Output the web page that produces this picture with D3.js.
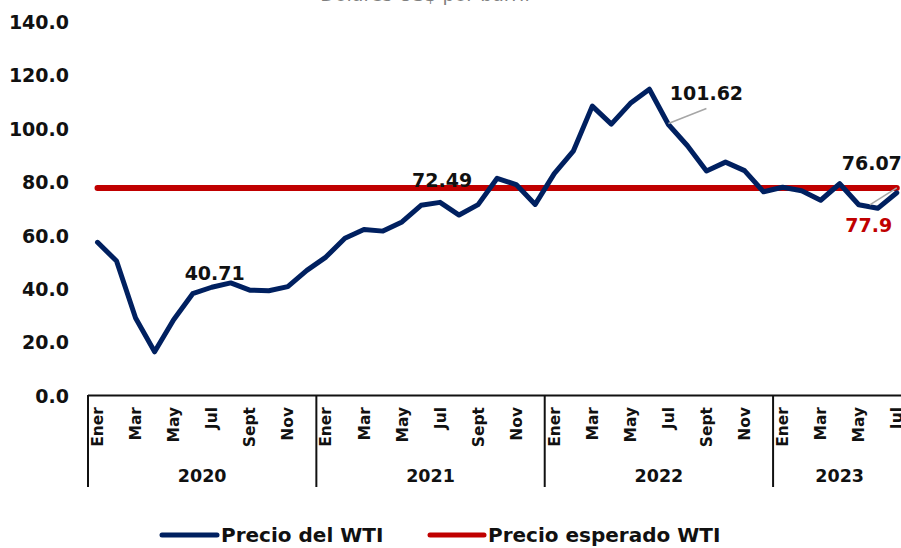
<!DOCTYPE html>
<html lang="es">
<head>
<meta charset="UTF-8">
<script src="https://d3js.org/d3.v7.min.js" charset="utf-8"></script>
<title>Precio del WTI</title>
<style>
    body { margin: 0; background: #fff; }
    text { font-family: "DejaVu Sans", sans-serif; font-weight: bold; }
</style>
</head>
<body>
<div id="chart"></div>
<script>
    const width = 901, height = 548;

    // datos
    const years = ["2020", "2021", "2022", "2023"];
    const months = ["Ener", "Feb", "Mar", "Abr", "May", "Jun", "Jul", "Ago", "Sept", "Oct", "Nov", "Dic"];
    const wti = [
        57.52, 50.54, 29.21, 16.55, 28.56, 38.31, 40.71, 42.34, 39.63, 39.40, 40.94, 47.02,
        52.00, 59.04, 62.33, 61.72, 65.17, 71.38, 72.49, 67.73, 71.65, 81.48, 79.15, 71.71,
        83.22, 91.64, 108.50, 101.78, 109.55, 114.84, 101.62, 93.67, 84.26, 87.55, 84.37, 76.44,
        78.12, 76.83, 73.28, 79.45, 71.58, 70.25, 76.07
    ];
    const esperado = 77.9;
    const yTicks = [0, 20, 40, 60, 80, 100, 120, 140];
    const labelIdx = [6, 18, 30, 42];

    const periods = [];
    years.forEach(y => months.forEach(m => periods.push({ year: y, month: m })));
    const cats = periods.slice(0, wti.length).map((p, i) => i);

    const x = d3.scaleBand().domain(cats).range([88, 88 + 19.03 * cats.length]).padding(0);
    const y = d3.scaleLinear().domain([0, 140]).range([396, 22]);
    const cx = i => x(i) + x.bandwidth() / 2;

    const svg = d3.select("#chart").append("svg")
        .attr("width", width)
        .attr("height", height);

    // titulo (cortado arriba)
    svg.append("text")
        .attr("x", 425).attr("y", 1)
        .attr("text-anchor", "middle")
        .style("font-weight", "normal")
        .style("font-size", "19px")
        .attr("fill", "#7f7f7f")
        .text("Dólares US$ por barril");

    // eje y
    svg.append("g").selectAll("text")
        .data(yTicks)
        .enter().append("text")
        .attr("x", 69)
        .attr("y", d => y(d))
        .attr("dy", "0.36em")
        .attr("text-anchor", "end")
        .style("font-size", "19px")
        .attr("fill", "#111")
        .text(d => d3.format(".1f")(d));

    // eje x
    const axis = svg.append("g").attr("stroke", "#111").attr("stroke-width", 2);
    axis.append("line")
        .attr("x1", 88).attr("x2", width)
        .attr("y1", 395.5).attr("y2", 395.5);
    axis.selectAll(".sep")
        .data(years)
        .enter().append("line")
        .attr("x1", (d, k) => x(k * 12)).attr("x2", (d, k) => x(k * 12))
        .attr("y1", 395).attr("y2", 487);

    svg.append("g").selectAll("text")
        .data(cats.filter(i => i % 2 === 0))
        .enter().append("text")
        .attr("transform", i => `translate(${cx(i)},407) rotate(-90)`)
        .attr("dy", "0.36em")
        .attr("text-anchor", "end")
        .style("font-size", "15.5px")
        .attr("fill", "#111")
        .text(i => periods[i].month);

    svg.append("g").selectAll("text")
        .data(years)
        .enter().append("text")
        .attr("x", (d, k) => {
            const first = k * 12, last = Math.min(k * 12 + 11, cats.length - 1);
            return (x(first) + x(last) + x.bandwidth()) / 2;
        })
        .attr("y", 482)
        .attr("text-anchor", "middle")
        .style("font-size", "17.5px")
        .attr("fill", "#111")
        .text(d => d);

    // precio esperado
    svg.append("line")
        .attr("x1", cx(0)).attr("x2", cx(cats.length - 1))
        .attr("y1", y(esperado)).attr("y2", y(esperado))
        .attr("stroke", "#c00000")
        .attr("stroke-width", 6)
        .attr("stroke-linecap", "round");

    // precio WTI
    const line = d3.line()
        .x(i => cx(i))
        .y(i => y(wti[i]));

    svg.append("path")
        .datum(cats)
        .attr("d", line)
        .attr("fill", "none")
        .attr("stroke", "#002060")
        .attr("stroke-width", 5)
        .attr("stroke-linejoin", "round")
        .attr("stroke-linecap", "round");

    // etiquetas
    const offs = { 6: [3, -7], 18: [2, -15], 30: [38, -25], 42: [-25, -23] };
    svg.append("line")
        .attr("x1", cx(30)).attr("y1", y(wti[30]) - 1)
        .attr("x2", cx(30) + 38).attr("y2", y(wti[30]) - 16)
        .attr("stroke", "#a6a6a6").attr("stroke-width", 1.5);
    svg.append("line")
        .attr("x1", cx(42) - 27).attr("y1", y(esperado) + 17)
        .attr("x2", cx(42)).attr("y2", y(esperado))
        .attr("stroke", "#a6a6a6").attr("stroke-width", 1.5);

    svg.append("g").selectAll("text")
        .data(labelIdx)
        .enter().append("text")
        .attr("x", i => cx(i) + offs[i][0])
        .attr("y", i => y(wti[i]) + offs[i][1])
        .attr("text-anchor", "middle")
        .style("font-size", "19px")
        .attr("fill", "#111")
        .text(i => d3.format(".2f")(wti[i]));

    svg.append("text")
        .attr("x", cx(42) - 28)
        .attr("y", y(esperado) + 44)
        .attr("text-anchor", "middle")
        .style("font-size", "19px")
        .attr("fill", "#c00000")
        .text(esperado);

    // leyenda
    const legend = [
        { name: "Precio del WTI", color: "#002060", x0: 162, x1: 217 },
        { name: "Precio esperado WTI", color: "#c00000", x0: 430, x1: 484 }
    ];
    const lg = svg.append("g").selectAll("g").data(legend).enter().append("g");
    lg.append("line")
        .attr("x1", d => d.x0).attr("x2", d => d.x1)
        .attr("y1", 535).attr("y2", 535)
        .attr("stroke", d => d.color)
        .attr("stroke-width", 5)
        .attr("stroke-linecap", "round");
    lg.append("text")
        .attr("x", d => d.x1 + 4)
        .attr("y", 542)
        .style("font-size", "20px")
        .attr("fill", "#111")
        .text(d => d.name);
</script>
</body>
</html>
